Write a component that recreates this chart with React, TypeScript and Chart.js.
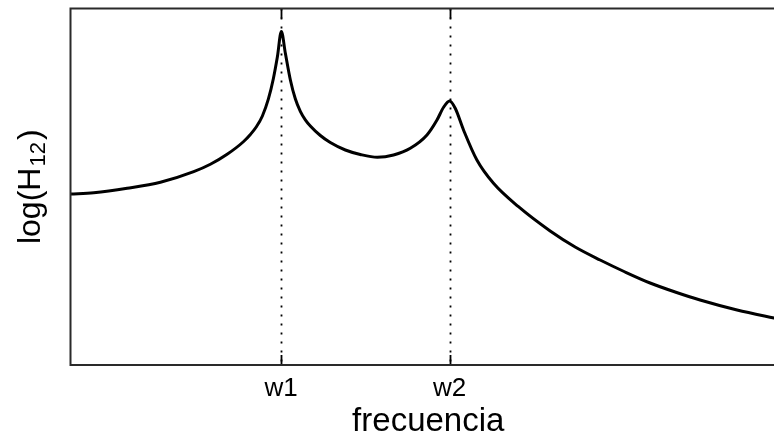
import React, { useEffect, useRef } from 'react';
import { Chart, registerables } from 'chart.js';

Chart.register(...registerables);

// frequency (arbitrary units) and log(H12) (arbitrary units)
const freq = [0, 0.325, 0.792, 1.257, 1.722, 1.955, 2.189, 2.42, 2.514, 2.598, 2.682, 2.765, 2.835, 2.891, 2.947, 3.003, 3.073, 3.142, 3.212, 3.282, 3.352, 3.492, 3.631, 3.841, 4.05, 4.288, 4.515, 4.749, 4.982, 5.122, 5.214, 5.298, 5.377, 5.493, 5.68, 5.912, 6.261, 6.704, 7.053, 7.402, 7.751, 8.101, 8.45, 8.799, 9.316, 9.832, 10.0];
const logH12 = [4.794, 4.833, 4.957, 5.125, 5.422, 5.63, 5.91, 6.269, 6.466, 6.682, 6.985, 7.456, 8.031, 8.637, 9.355, 8.743, 7.994, 7.467, 7.116, 6.878, 6.704, 6.438, 6.241, 6.031, 5.905, 5.826, 5.891, 6.079, 6.452, 6.872, 7.229, 7.405, 7.201, 6.592, 5.75, 5.097, 4.44, 3.759, 3.31, 2.945, 2.609, 2.3, 2.048, 1.823, 1.543, 1.318, 1.248];

const xTickValues = [2.945, 5.3];
const xTickLabels = ['w1', 'w2'];
const xTitle = 'frecuencia';
const yTitleMain = 'log(H';
const yTitleSub = '12';
const yTitleEnd = ')';

const FONT = "'Liberation Sans', Arial, Helvetica, sans-serif";

export default function App() {
  const ref = useRef<HTMLCanvasElement>(null);

  useEffect(() => {
    const canvas = ref.current;
    if (!canvas) return;

    const framePlugin = {
      id: 'frame',
      beforeDatasetsDraw(chart: any) {
        const { ctx, chartArea: a, scales } = chart;
        const x = scales.x;
        ctx.save();
        ctx.strokeStyle = '#000';
        ctx.lineWidth = 1.8;
        ctx.setLineDash([2, 7]);
        xTickValues.forEach((v) => {
          const px = Math.round(x.getPixelForValue(v)) + 0.5;
          ctx.beginPath();
          ctx.moveTo(px, a.top);
          ctx.lineTo(px, a.bottom);
          ctx.stroke();
        });
        ctx.setLineDash([]);
        ctx.lineWidth = 1.8;
        xTickValues.forEach((v) => {
          const px = Math.round(x.getPixelForValue(v)) + 0.5;
          ctx.beginPath();
          ctx.moveTo(px, a.bottom);
          ctx.lineTo(px, a.bottom - 10);
          ctx.moveTo(px, a.top);
          ctx.lineTo(px, a.top + 10);
          ctx.stroke();
        });
        ctx.restore();
      },
      afterDraw(chart: any) {
        const { ctx, chartArea: a } = chart;
        ctx.save();
        ctx.strokeStyle = '#2a2a2a';
        ctx.lineWidth = 2;
        ctx.beginPath();
        ctx.moveTo(a.right + 5, a.top);
        ctx.lineTo(a.left, a.top);
        ctx.lineTo(a.left, a.bottom);
        ctx.lineTo(a.right + 5, a.bottom);
        ctx.stroke();

        // y title with subscript
        ctx.fillStyle = '#000';
        ctx.textBaseline = 'alphabetic';
        ctx.textAlign = 'left';
        const mainFont = `32px ${FONT}`;
        const subFont = `22px ${FONT}`;
        ctx.font = mainFont;
        const wa = ctx.measureText(yTitleMain).width;
        const wc = ctx.measureText(yTitleEnd).width;
        ctx.font = subFont;
        const wb = ctx.measureText(yTitleSub).width + 3;
        const total = wa + wb + wc;
        const cy = (a.top + a.bottom) / 2;
        ctx.translate(40, cy);
        ctx.rotate(-Math.PI / 2);
        let sx = -total / 2;
        ctx.font = mainFont;
        ctx.fillText(yTitleMain, sx, 0);
        sx += wa + 1;
        ctx.font = subFont;
        ctx.fillText(yTitleSub, sx, 5);
        sx += wb - 1;
        ctx.font = mainFont;
        ctx.fillText(yTitleEnd, sx, 0);
        ctx.restore();
      },
    };

    const chart = new Chart(canvas, {
      type: 'line',
      data: {
        datasets: [
          {
            data: freq.map((f, i) => ({ x: f, y: logH12[i] })),
            borderColor: '#000',
            borderWidth: 3,
            pointRadius: 0,
            fill: false,
            cubicInterpolationMode: 'monotone',
          },
        ],
      },
      options: {
        animation: false,
        responsive: false,
        devicePixelRatio: 1,
        events: [],
        layout: { padding: { left: 70.5, top: 8.5, right: 14, bottom: 0 } },
        plugins: { legend: { display: false }, tooltip: { enabled: false }, title: { display: false } },
        scales: {
          x: {
            type: 'linear',
            min: 0,
            max: 10,
            afterBuildTicks: (scale: any) => {
              scale.ticks = xTickValues.map((v) => ({ value: v }));
            },
            afterFit: (scale: any) => {
              scale.height = 79;
            },
            grid: { display: false, drawTicks: false },
            border: { display: false },
            ticks: {
              autoSkip: false,
              maxRotation: 0,
              padding: 8,
              color: '#000',
              font: { family: FONT, size: 26 },
              callback: (_v: any, i: number) => xTickLabels[i],
            },
            title: {
              display: true,
              text: xTitle,
              color: '#000',
              font: { family: FONT, size: 33 },
              padding: { top: 0, bottom: 2 },
            },
          },
          y: { display: false, min: 0, max: 10 },
        },
      },
      plugins: [framePlugin],
    } as any);

    return () => chart.destroy();
  }, []);

  return (
    <div style={{ position: 'fixed', left: 0, top: 0, width: 774, height: 444, overflow: 'hidden', background: '#fff' }}>
      <canvas ref={ref} width={800} height={444} style={{ display: 'block', width: 800, height: 444 }} />
    </div>
  );
}
